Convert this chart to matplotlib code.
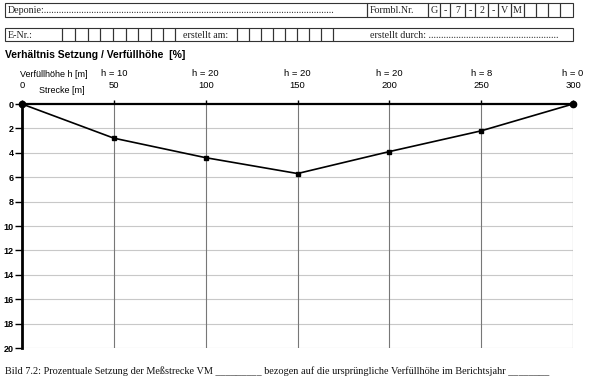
import numpy as np
import matplotlib.pyplot as plt
from matplotlib.patches import Rectangle

strecke = [0, 50, 100, 150, 200, 250, 300]
setzung = [0, 2.8, 4.4, 5.7, 3.9, 2.2, 0]
hoehe = ['h = 10', 'h = 20', 'h = 20', 'h = 20', 'h = 8', 'h = 0']
y_ticks = list(range(0, 21, 2))

W, H = 594, 384
fig = plt.figure(figsize=(W / 100, H / 100), dpi=100)

# form header drawn in pixel coords on an overlay axes
bg = fig.add_axes([0, 0, 1, 1])
bg.set_xlim(0, W)
bg.set_ylim(H, 0)
bg.axis('off')
serif = 'Liberation Serif'

def box(x0, x1, y0, y1, txt='', tx=None, ha='left'):
    bg.add_patch(Rectangle((x0, y0), x1 - x0, y1 - y0, fill=False, ec='#333333', lw=0.8))
    if txt:
        xx = x0 + 3 if tx is None else tx
        bg.text(xx, (y0 + y1) / 2 + 0.5, txt, family=serif, fontsize=7.2, ha=ha, va='center', color='#222222')

# row 1
box(5, 367, 3, 17, 'Deponie:' + '.' * 116)
box(367, 428, 3, 17, 'Formbl.Nr.')
cells1 = [428, 440, 450, 465, 475, 488, 498, 511, 524, 536, 548, 560, 573]
chars1 = ['G', '-', '7', '-', '2', '-', 'V', 'M', '', '', '', '']
for i, c in enumerate(chars1):
    box(cells1[i], cells1[i + 1], 3, 17, c, tx=(cells1[i] + cells1[i + 1]) / 2, ha='center')

# row 2
box(5, 62, 28, 41, 'E-Nr.:')
cells2 = [62, 75, 88, 100, 113, 126, 138, 151, 163, 175]
for a, b in zip(cells2[:-1], cells2[1:]):
    box(a, b, 28, 41)
box(175, 237, 28, 41, 'erstellt am:', tx=206, ha='center')
cells3 = [237, 249, 261, 273, 285, 297, 309, 321, 333]
for a, b in zip(cells3[:-1], cells3[1:]):
    box(a, b, 28, 41)
box(333, 573, 28, 41, 'erstellt durch: ' + '.' * 52, tx=370)

bg.text(5, 371, 'Bild 7.2: Prozentuale Setzung der Meßstrecke VM _________ bezogen auf die ursprüngliche '
        'Verfüllhöhe im Berichtsjahr ________', family=serif, fontsize=7.4, va='center', color='#111111')
bg.text(5, 55, 'Verhältnis Setzung / Verfüllhöhe  [%]', ha='left', va='center',
        family='Liberation Sans', fontsize=7.5, fontweight='bold')

# chart
ax = fig.add_axes([22 / W, 1 - 348 / H, (573 - 22) / W, 244 / H])
ax.set_xlim(0, 300)
ax.set_ylim(20, 0)
for s in ['right', 'bottom']:
    ax.spines[s].set_visible(False)
ax.spines['left'].set_linewidth(2)
ax.spines['top'].set_linewidth(1.6)

ax.set_yticks(y_ticks)
ax.set_yticklabels([str(v) for v in y_ticks], family='Liberation Sans', fontsize=6.5, fontweight='bold')
ax.tick_params(axis='y', length=5, width=1, pad=1)
for v in y_ticks[1:]:
    ax.axhline(v, color='#c8c8c8', lw=0.8, zorder=1)
for v in strecke[1:]:
    ax.axvline(v, color='#777777', lw=0.8, zorder=1)

ax.xaxis.tick_top()
ax.set_xticks(strecke)
ax.set_xticklabels([str(v) for v in strecke], family='Liberation Sans', fontsize=6.8)
ax.tick_params(axis='x', length=3, width=1, pad=7)

ax.plot(strecke, setzung, color='black', lw=1.2, marker='s', ms=3.5, zorder=3, clip_on=False)
ax.plot([strecke[0], strecke[-1]], [setzung[0], setzung[-1]], 'o', color='black', ms=4.5,
        zorder=4, clip_on=False)

tr = ax.get_xaxis_transform()
for x, lab in zip(strecke[1:], hoehe):
    ax.text(x, 1.125, lab, transform=tr, ha='center', va='center', family='Liberation Sans', fontsize=6.8)
ax.text(-1, 1.12, 'Verfüllhöhe h [m]', transform=tr, ha='left', va='center',
        family='Liberation Sans', fontsize=6.5)
ax.text(9, 1.055, 'Strecke [m]', transform=tr, ha='left', va='center', family='Liberation Sans', fontsize=6.5)

fig.savefig('out.png', dpi=100)
